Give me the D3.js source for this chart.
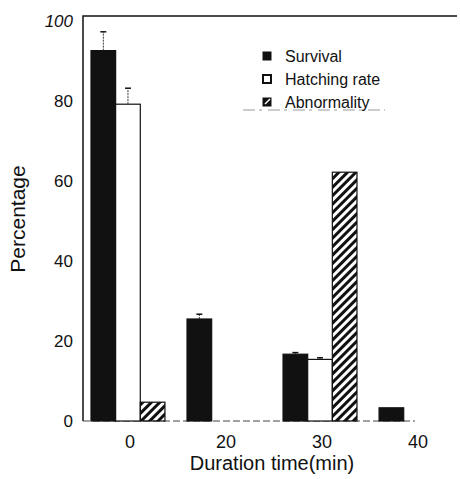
<!DOCTYPE html>
<html>
<head>
<meta charset="utf-8">
<script src="https://cdn.jsdelivr.net/npm/d3@7"></script>
<style>
  body { margin: 0; background: #fff; }
  text { font-family: "Liberation Sans", Arial, sans-serif; fill: #111; }
</style>
</head>
<body>
<div id="chart-area"></div>
<script>
// data
const groups = ["0", "20", "30", "40"]
const seriesNames = ["Survival", "Hatching rate", "Abnormality"]
const survival = [92.6, 25.5, 16.7, 3.3]
const hatching = [79.2, 0, 15.4, 0]
const abnormality = [4.7, 0, 62.2, 0]
const survivalErr = [4.7, 1.2, 0.4, 0]
const hatchingErr = [4, 0, 0.4, 0]
const abnormalityErr = [0, 0, 0, 0]
const yTicks = [0, 20, 40, 60, 80, 100]

const W = 460, H = 479
const PLOT = { LEFT: 83, TOP: 16, BOTTOM: 421, RIGHT: 457 }

const svg = d3.select("#chart-area").append("svg")
  .attr("width", W)
  .attr("height", H)

// hatch for abnormality
const defs = svg.append("defs")
defs.append("pattern")
  .attr("id", "hatch")
  .attr("patternUnits", "userSpaceOnUse")
  .attr("width", 6)
  .attr("height", 6)
  .attr("patternTransform", "rotate(45)")
  .append("rect")
    .attr("width", 3)
    .attr("height", 6)
    .attr("fill", "#111")

const yScale = d3.scaleLinear()
  .domain([0, 100])
  .range([PLOT.BOTTOM, 21])

const xScale = d3.scaleBand()
  .domain(groups)
  .range([91, 453])
  .paddingInner(0.23)
  .paddingOuter(0)

const xInner = d3.scaleBand()
  .domain(seriesNames)
  .range([0, xScale.bandwidth()])

// frame: left axis + top line
svg.append("path")
  .attr("d", `M${PLOT.RIGHT},${PLOT.TOP}H${PLOT.LEFT}V${PLOT.BOTTOM}`)
  .attr("fill", "none")
  .attr("stroke", "#111")
  .attr("stroke-width", 1.5)

// bottom axis line (faint in the scan)
svg.append("line")
  .attr("x1", PLOT.LEFT).attr("x2", 415)
  .attr("y1", PLOT.BOTTOM).attr("y2", PLOT.BOTTOM)
  .attr("stroke", "#444")
  .attr("stroke-width", 1)
  .attr("stroke-dasharray", "7,3")

// y axis labels
const yAxis = d3.axisLeft(yScale)
  .tickValues(yTicks)
  .tickSize(0)
  .tickPadding(10)
const yG = svg.append("g")
  .attr("transform", `translate(${PLOT.LEFT}, 0)`)
  .call(yAxis)
yG.select(".domain").remove()
yG.selectAll("text")
  .attr("font-size", "17px")
  .attr("font-family", "Liberation Sans, Arial, sans-serif")
  .attr("fill", "#111")
  .attr("font-style", d => d === 100 ? "italic" : "normal")

// x axis labels
const xAxis = d3.axisBottom(xScale).tickSize(0).tickPadding(14)
const xG = svg.append("g")
  .attr("transform", `translate(0, ${PLOT.BOTTOM})`)
  .call(xAxis)
xG.select(".domain").remove()
xG.selectAll("text")
  .attr("font-size", "18px")
  .attr("font-family", "Liberation Sans, Arial, sans-serif")
  .attr("fill", "#111")
  .attr("dx", 2)

// axis titles
svg.append("text")
  .attr("x", 272)
  .attr("y", 470)
  .attr("font-size", "20px")
  .attr("text-anchor", "middle")
  .text("Duration time(min)")
svg.append("text")
  .attr("x", -219)
  .attr("y", 25)
  .attr("font-size", "21px")
  .attr("text-anchor", "middle")
  .attr("transform", "rotate(-90)")
  .text("Percentage")

// bars
const series = [
  { name: "Survival", values: survival, errs: survivalErr, fill: "#111" },
  { name: "Hatching rate", values: hatching, errs: hatchingErr, fill: "#fff" },
  { name: "Abnormality", values: abnormality, errs: abnormalityErr, fill: "url(#hatch)" }
]

series.forEach(s => {
  const rows = groups.map((g, i) => ({ group: g, value: s.values[i], err: s.errs[i] }))
    .filter(d => d.value > 0)
  const x = d => xScale(d.group) + xInner(s.name)

  svg.append("g").selectAll("rect")
    .data(rows)
    .enter().append("rect")
      .attr("x", x)
      .attr("y", d => yScale(d.value))
      .attr("width", xInner.bandwidth())
      .attr("height", d => PLOT.BOTTOM - yScale(d.value))
      .attr("fill", s.fill)
      .attr("stroke", "#111")
      .attr("stroke-width", 1.2)

  // error bars
  const eg = svg.append("g")
  const withErr = rows.filter(d => d.err > 0)
  eg.selectAll("line.v")
    .data(withErr)
    .enter().append("line")
      .attr("class", "v")
      .attr("x1", d => x(d) + xInner.bandwidth() / 2)
      .attr("x2", d => x(d) + xInner.bandwidth() / 2)
      .attr("y1", d => yScale(d.value))
      .attr("y2", d => yScale(d.value + d.err))
      .attr("stroke", "#333")
      .attr("stroke-width", 1)
      .attr("stroke-dasharray", "2,1")
  eg.selectAll("line.cap")
    .data(withErr)
    .enter().append("line")
      .attr("class", "cap")
      .attr("x1", d => x(d) + xInner.bandwidth() / 2 - 3)
      .attr("x2", d => x(d) + xInner.bandwidth() / 2 + 3)
      .attr("y1", d => yScale(d.value + d.err))
      .attr("y2", d => yScale(d.value + d.err))
      .attr("stroke", "#111")
      .attr("stroke-width", 1.5)
})

// legend
const legend = svg.append("g")
  .attr("transform", "translate(263, 52)")
const li = legend.selectAll("g")
  .data(seriesNames)
  .enter().append("g")
    .attr("transform", (d, i) => `translate(0, ${i * 23})`)
li.append("rect")
  .attr("width", 8)
  .attr("height", 8)
  .attr("fill", (d, i) => i === 1 ? "#fff" : "#111")
  .attr("stroke", "#111")
  .attr("stroke-width", (d, i) => i === 1 ? 2 : 1)
legend.append("line")  // the slash in the abnormality key
  .attr("x1", 2).attr("y1", 52)
  .attr("x2", 7).attr("y2", 47)
  .attr("stroke", "#fff")
  .attr("stroke-width", 1.5)
li.append("text")
  .attr("x", 22)
  .attr("y", 10)
  .attr("font-size", "16px")
  .text(d => d)

// faint rule under the legend
svg.append("line")
  .attr("x1", 243).attr("x2", 385)
  .attr("y1", 110).attr("y2", 110)
  .attr("stroke", "#999")
  .attr("stroke-width", 1)
  .attr("stroke-dasharray", "12,4,3,6")
</script>
</body>
</html>
